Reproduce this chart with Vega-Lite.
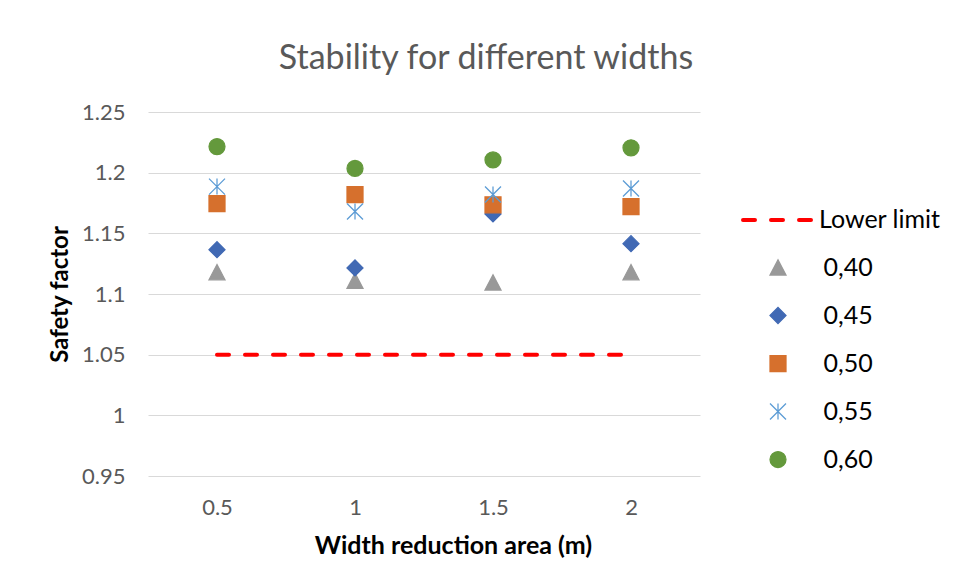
{
  "$schema": "https://vega.github.io/schema/vega-lite/v6.json",
  "width": 552,
  "height": 364,
  "autosize": {"type": "none"},
  "padding": {"left": 148, "top": 112, "right": 253, "bottom": 109},
  "background": "white",
  "config": {"view": {"stroke": null}, "font": "Lato"},
  "title": {
    "text": "Stability for different widths",
    "fontSize": 34,
    "font": "Lato",
    "fontWeight": "normal",
    "color": "#595959",
    "dx": 62,
    "dy": 44,
    "offset": 42,
    "frame": "group",
    "baseline": "alphabetic",
    "anchor": "middle"
  },
  "datasets": {
    "limit": [
      {"x": "0.5", "y": 1.05, "series": "Lower limit"},
      {"x": "2", "y": 1.05, "series": "Lower limit"}
    ],
    "points": [
      {"x": "0.5", "y": 1.118, "series": "0,40"},
      {"x": "1", "y": 1.111, "series": "0,40"},
      {"x": "1.5", "y": 1.1095, "series": "0,40"},
      {"x": "2", "y": 1.118, "series": "0,40"},
      {"x": "0.5", "y": 1.1365, "series": "0,45"},
      {"x": "1", "y": 1.1215, "series": "0,45"},
      {"x": "1.5", "y": 1.166, "series": "0,45"},
      {"x": "2", "y": 1.1415, "series": "0,45"},
      {"x": "0.5", "y": 1.1745, "series": "0,50"},
      {"x": "1", "y": 1.182, "series": "0,50"},
      {"x": "1.5", "y": 1.1735, "series": "0,50"},
      {"x": "2", "y": 1.172, "series": "0,50"},
      {"x": "0.5", "y": 1.1885, "series": "0,55"},
      {"x": "1", "y": 1.168, "series": "0,55"},
      {"x": "1.5", "y": 1.182, "series": "0,55"},
      {"x": "2", "y": 1.187, "series": "0,55"},
      {"x": "0.5", "y": 1.2215, "series": "0,60"},
      {"x": "1", "y": 1.2035, "series": "0,60"},
      {"x": "1.5", "y": 1.2105, "series": "0,60"},
      {"x": "2", "y": 1.2205, "series": "0,60"}
    ]
  },
  "layer": [
    {
      "data": {"name": "limit"},
      "mark": {"type": "line", "color": "#FF0000", "strokeWidth": 4, "strokeCap": "round"},
      "encoding": {
        "x": {
          "field": "x",
          "type": "nominal",
          "scale": {"type": "point", "domain": ["0.5", "1", "1.5", "2"], "padding": 0.5},
          "axis": {
            "grid": false,
            "domain": false,
            "ticks": false,
            "tickSize": 0,
            "labelPadding": 38,
            "labelBaseline": "alphabetic",
            "labelAngle": 0,
            "labelFont": "Lato",
            "labelFontSize": 22,
            "labelColor": "#595959",
            "title": "Width reduction area (m)",
            "titleFont": "Lato",
            "titleFontSize": 25,
            "titleFontWeight": "bold",
            "titleColor": "#000000",
            "titleX": 305,
            "titleY": 69,
            "titleBaseline": "middle",
            "titleAlign": "center"
          }
        },
        "y": {
          "field": "y",
          "type": "quantitative",
          "scale": {"domain": [0.95, 1.25], "zero": false, "nice": false},
          "axis": {
            "values": [0.95, 1, 1.05, 1.1, 1.15, 1.2, 1.25],
            "format": "~g",
            "grid": true,
            "gridColor": "#d9d9d9",
            "gridWidth": 1,
            "domain": false,
            "ticks": false,
            "tickSize": 0,
            "labelPadding": 23,
            "labelFont": "Lato",
            "labelFontSize": 22,
            "labelColor": "#595959",
            "title": "Safety factor",
            "titleFont": "Lato",
            "titleFontSize": 24,
            "titleFontWeight": "bold",
            "titleColor": "#000000",
            "titleX": -88,
            "titleY": 182,
            "titleAngle": -90,
            "titleBaseline": "middle",
            "titleAlign": "center"
          }
        },
        "strokeDash": {
          "field": "series",
          "type": "nominal",
          "scale": {"domain": ["Lower limit"], "range": [[12, 16]]},
          "legend": {
            "orient": "none",
            "legendX": 593,
            "legendY": 71,
            "title": null,
            "padding": 0,
            "symbolType": "stroke",
            "symbolSize": 4900,
            "symbolStrokeWidth": 4,
            "symbolStrokeColor": "#FF0000",
            "labelFont": "Lato",
            "labelFontSize": 25,
            "labelColor": "#000000",
            "labelOffset": 4,
            "encode": {"symbols": {"update": {"strokeCap": {"value": "round"}, "stroke": {"value": "#FF0000"}}}}
          }
        }
      }
    },
    {
      "data": {"name": "points"},
      "mark": {"type": "point", "filled": true, "size": 256, "strokeWidth": 1.25, "opacity": 1},
      "encoding": {
        "x": {"field": "x", "type": "nominal"},
        "y": {"field": "y", "type": "quantitative"},
        "color": {
          "field": "series",
          "type": "nominal",
          "scale": {
            "domain": ["0,40", "0,45", "0,50", "0,55", "0,60"],
            "range": ["#999999", "#4169B4", "#D6702D", "#5B9BD5", "#64993C"]
          },
          "legend": {
            "orient": "none",
            "legendX": 617.5,
            "legendY": 143,
            "title": null,
            "padding": 0,
            "symbolSize": 256,
            "symbolStrokeWidth": 1.25,
            "labelFont": "Lato",
            "labelFontSize": 25,
            "labelColor": "#000000",
            "labelOffset": 33,
            "rowPadding": 22,
            "encode": {"symbols": {"update": {"stroke": {"scale": "color", "field": "value"}, "strokeWidth": {"value": 1.25}, "opacity": {"value": 1}}}}
          }
        },
        "shape": {
          "field": "series",
          "type": "nominal",
          "scale": {
            "domain": ["0,40", "0,45", "0,50", "0,55", "0,60"],
            "range": ["M0,-0.95L1,0.95L-1,0.95Z", "diamond", "square", "M-1,-1L1,1M1,-1L-1,1M0,-1L0,1", "circle"]
          }
        },
        "stroke": {
          "field": "series",
          "type": "nominal",
          "scale": {
            "domain": ["0,40", "0,45", "0,50", "0,55", "0,60"],
            "range": ["#999999", "#4169B4", "#D6702D", "#5B9BD5", "#64993C"]
          },
          "legend": null
        }
      }
    }
  ]
}
